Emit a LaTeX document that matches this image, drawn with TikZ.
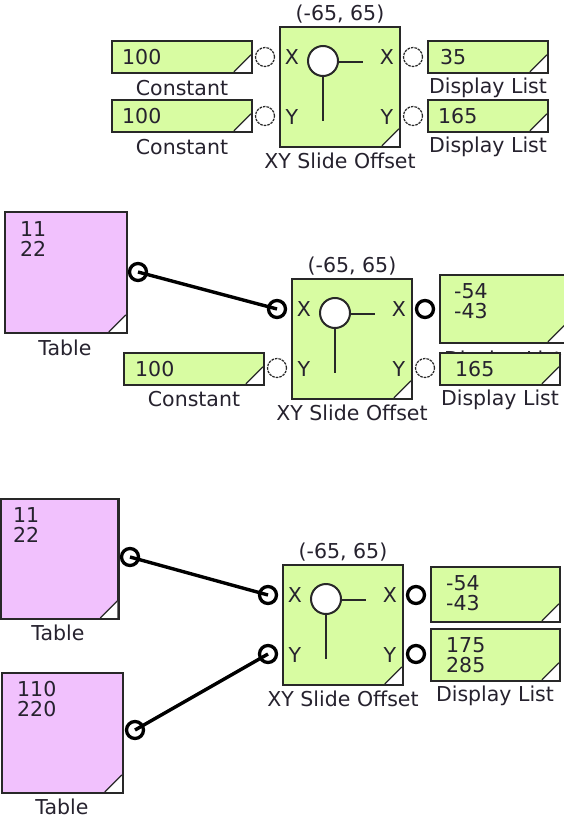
\documentclass[tikz,border=0pt]{standalone}
\usepackage{fontspec}
\setmainfont{DejaVu Sans}
\usetikzlibrary{calc}
\definecolor{grn}{RGB}{216,252,162}
\definecolor{pnk}{RGB}{241,193,253}
\definecolor{edge}{RGB}{40,40,40}
\definecolor{txt}{RGB}{38,34,46}
\tikzset{
 box/.style={draw=edge, line width=2.2pt, anchor=north west, inner sep=0pt, outer sep=0pt},
 gbox/.style={box, fill=grn},
 pbox/.style={box, fill=pnk},
 lbl/.style={text=txt, inner sep=0pt, font=\fontsize{20.5}{22}\selectfont},
 val/.style={lbl, anchor=west},
 portthin/.style={circle, draw=edge, line width=1.2pt, dash pattern=on 2.6pt off 1pt, minimum size=19pt, inner sep=0pt, fill=white},
 portthick/.style={circle, draw=black, line width=3.3pt, minimum size=17pt, inner sep=0pt},
 wire/.style={line width=3.4pt, black},
 knob/.style={circle, draw=edge, line width=2pt, fill=white, minimum size=30pt, inner sep=0pt},
 stick/.style={line width=2pt, edge},
}
\newcommand\dogear[1]{%
 \fill[white] ([xshift=-1.1pt,yshift=1.1pt]#1.south east) -- ++(-17pt,0pt) -- ++(17pt,17pt) -- cycle;
 \draw[edge, line width=1.2pt] ([xshift=-18.1pt,yshift=1.1pt]#1.south east) -- ([xshift=-1.1pt,yshift=18.1pt]#1.south east);}
\newcommand\xyblock[7]{%
 \node[gbox, minimum width=120pt, minimum height=120pt] (#1) at (#2,#3) {};
 \dogear{#1}
 \node[lbl] (#1tt) at ($(#1.north)+(0pt,13pt)$) {(-65, 65)};
 \node[lbl] (#1ll) at ($(#1.south)+(0pt,-14pt)$) {XY Slide Offset};
 \node[lbl] (#1xi) at ($(#1.north west)+(12pt,-30pt)$) {X};
 \node[lbl] (#1yi) at ($(#1.north west)+(12pt,-90pt)$) {Y};
 \node[lbl] (#1xo) at ($(#1.north west)+(107pt,-30pt)$) {X};
 \node[lbl] (#1yo) at ($(#1.north west)+(107pt,-90pt)$) {Y};
 \node[knob] (#1k) at ($(#1.north west)+(43pt,-34pt)$) {};
 \coordinate (#1h) at ($(#1.north west)+(83pt,-35pt)$);
 \coordinate (#1v) at ($(#1.north west)+(43pt,-94pt)$);
 \draw[stick] (#1k.east |- #1h) -- (#1h);
 \draw[stick] (#1k.south) -- (#1v);
 \node[#4] (#1ix) at ($(#1.north west)+(-15pt,-30pt)$) {};
 \node[#5] (#1iy) at ($(#1.north west)+(-15pt,-89pt)$) {};
 \node[#6] (#1ox) at ($(#1.north east)+(13pt,-30pt)$) {};
 \node[#7] (#1oy) at ($(#1.north east)+(13pt,-89pt)$) {};
}
\begin{document}
\begin{tikzpicture}[x=1pt,y=-1pt]
\fill[white] (0,0) rectangle (563,821);
\useasboundingbox (0,0) rectangle (563,821);

% ---------- section 1 ----------
\node[gbox, minimum width=140pt, minimum height=32pt] (c1) at (112,41) {};
\dogear{c1}
\node[val] (c1v) at (122,57) {100};
\node[lbl] (c1l) at (182,88) {Constant};
\node[gbox, minimum width=140pt, minimum height=32pt] (c2) at (112,100) {};
\dogear{c2}
\node[val] (c2v) at (122,116) {100};
\node[lbl] (c2l) at (182,147) {Constant};
\xyblock{b1}{280}{27}{portthin}{portthin}{portthin}{portthin}
\node[gbox, minimum width=120pt, minimum height=32pt] (d1) at (428,41) {};
\dogear{d1}
\node[val] (d1v) at (440,57) {35};
\node[lbl] (d1l) at (488,88) {Display List};
\node[gbox, minimum width=120pt, minimum height=32pt] (d2) at (428,100) {};
\dogear{d2}
\node[val] (d2v) at (438,116) {165};
\node[lbl] (d2l) at (488,147) {Display List};

% ---------- section 2 ----------
\node[pbox, minimum width=122pt, minimum height=121pt] (t1) at (5,212) {};
\dogear{t1}
\node[val] (t1a) at (20,229) {11};
\node[val] (t1b) at (20,249) {22};
\node[lbl] (t1l) at (65,348) {Table};
\node[portthick] (t1p) at (138,272) {};
\xyblock{b2}{292}{279}{portthick}{portthin}{portthick}{portthin}
\node[gbox, minimum width=140pt, minimum height=32pt] (c3) at (124,353) {};
\dogear{c3}
\node[val] (c3v) at (135,369) {100};
\node[lbl] (c3l) at (194,399) {Constant};
\node[gbox, minimum width=126pt, minimum height=68pt] (d3) at (440,275) {};
\dogear{d3}
\node[val] (d3a) at (454,291) {-54};
\node[val] (d3b) at (454,311) {-43};
\begin{scope}
\clip (436,344) rectangle (566,354);
\node[lbl] (d3l) at (503,361) {Display List};
\end{scope}
\node[gbox, minimum width=120pt, minimum height=32pt] (d4) at (440,353) {};
\dogear{d4}
\node[val] (d4v) at (455,369) {165};
\node[lbl] (d4l) at (500,400) {Display List};
\draw[wire] (t1p.center) -- (b2ix.center);

% ---------- section 3 ----------
\node[pbox, minimum width=118pt, minimum height=120pt] (t2) at (0.5,499) {};
\dogear{t2}
\node[val] (t2a) at (13,515) {11};
\node[val] (t2b) at (13,535) {22};
\node[lbl] (t2l) at (58,633) {Table};
\node[portthick] (t2p) at (130,557) {};
\node[pbox, minimum width=121pt, minimum height=120pt] (t3) at (2,673) {};
\dogear{t3}
\node[val] (t3a) at (17,689) {110};
\node[val] (t3b) at (17,709) {220};
\node[lbl] (t3l) at (62,807) {Table};
\node[portthick] (t3p) at (135,730) {};
\xyblock{b3}{283}{565}{portthick}{portthick}{portthick}{portthick}
\node[gbox, minimum width=129pt, minimum height=55pt] (d5) at (431,567) {};
\dogear{d5}
\node[val] (d5a) at (446,583) {-54};
\node[val] (d5b) at (446,603) {-43};
\node[gbox, minimum width=129pt, minimum height=52pt] (d6) at (431,629) {};
\dogear{d6}
\node[val] (d6a) at (446,645) {175};
\node[val] (d6b) at (446,665) {285};
\node[lbl] (d6l) at (495,696) {Display List};
\draw[wire] (t2p.center) -- (b3ix.center);
\draw[wire] (t3p.center) -- (b3iy.center);
\end{tikzpicture}
\end{document}
